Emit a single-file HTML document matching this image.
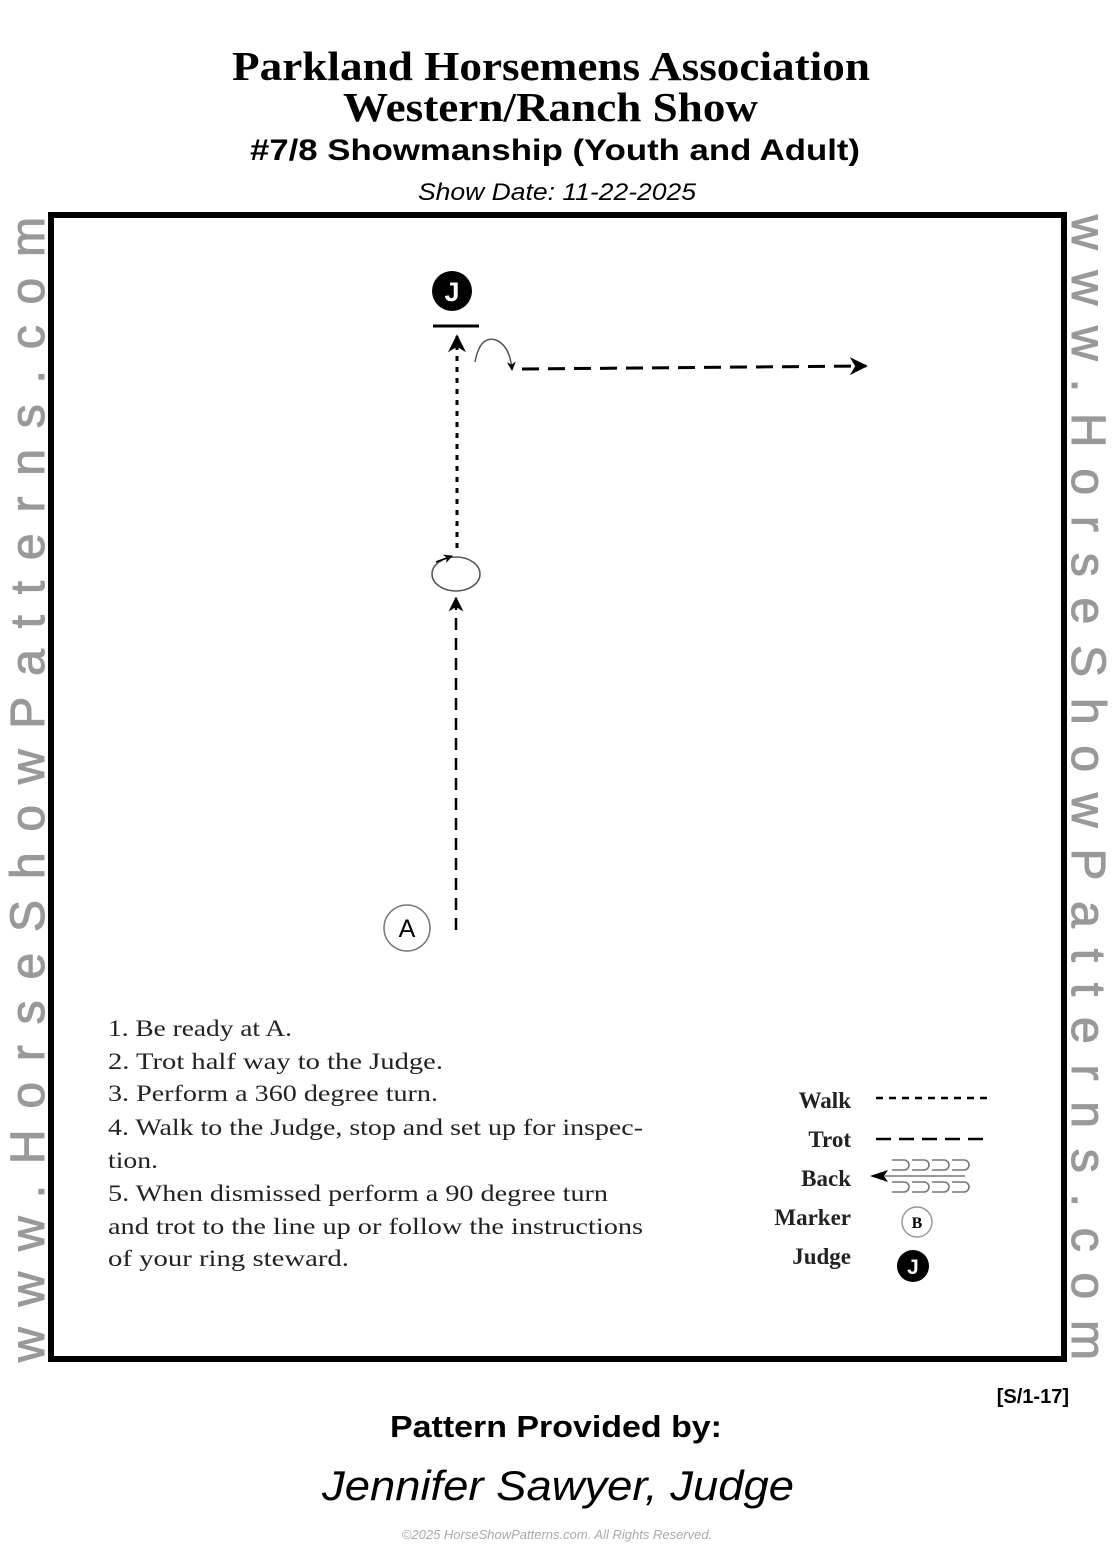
<!DOCTYPE html>
<html><head><meta charset="utf-8"><style>html,body{margin:0;padding:0;background:#fff}svg{display:block}</style></head>
<body>
<svg width="1115" height="1561" viewBox="0 0 1115 1561" xmlns="http://www.w3.org/2000/svg">
<defs>
<marker id="ah" viewBox="0 0 10 10" refX="9" refY="5" markerWidth="6" markerHeight="6" orient="auto"><path d="M0,0 L10,5 L0,10 L3,5 z" fill="#000"/></marker>
</defs>
<rect width="1115" height="1561" fill="#fff"/>
<g font-family="Liberation Serif, serif" font-weight="bold" fill="#000">
<text x="232" y="80" font-size="41" textLength="638" lengthAdjust="spacingAndGlyphs">Parkland Horsemens Association</text>
<text x="343" y="121" font-size="41" textLength="415" lengthAdjust="spacingAndGlyphs">Western/Ranch Show</text>
</g>
<text x="250" y="160" font-family="Liberation Sans, sans-serif" font-weight="bold" font-size="30" textLength="610" lengthAdjust="spacingAndGlyphs">#7/8 Showmanship  (Youth and Adult)</text>
<text x="418" y="200" font-family="Liberation Sans, sans-serif" font-style="italic" font-size="24" textLength="278" lengthAdjust="spacingAndGlyphs">Show Date: 11-22-2025</text>
<rect x="51" y="215" width="1013" height="1144" fill="none" stroke="#000" stroke-width="6"/>
<text transform="translate(44,1362) rotate(-90)" font-family="Liberation Sans, sans-serif" font-size="48" stroke="#999" stroke-width="1" fill="#999" textLength="1145" lengthAdjust="spacing">www.HorseShowPatterns.com</text>
<text transform="translate(1072,215) rotate(90)" font-family="Liberation Sans, sans-serif" font-size="48" stroke="#999" stroke-width="1" fill="#999" textLength="1145" lengthAdjust="spacing">www.HorseShowPatterns.com</text>
<circle cx="452" cy="291" r="20" fill="#000"/>
<text x="452" y="301" font-family="Liberation Sans, sans-serif" font-weight="bold" font-size="27" fill="#fff" text-anchor="middle">J</text>
<line x1="433" y1="326" x2="479" y2="326" stroke="#000" stroke-width="3"/>
<line x1="456" y1="930" x2="456" y2="598" stroke="#000" stroke-width="2.5" stroke-dasharray="12,8" marker-end="url(#ah)"/>
<ellipse cx="456" cy="574" rx="24" ry="17" fill="none" stroke="#555" stroke-width="1.5"/>
<path d="M436,562 L452,556" stroke="#000" stroke-width="1.5" marker-end="url(#ah)"/>
<line x1="457" y1="548" x2="457" y2="336" stroke="#000" stroke-width="3" stroke-dasharray="5,6" marker-end="url(#ah)"/>
<path d="M475,362 Q480,335 496,340 Q510,346 512,370" fill="none" stroke="#555" stroke-width="1.5" marker-end="url(#ah)"/>
<line x1="522" y1="369" x2="866" y2="366" stroke="#000" stroke-width="3" stroke-dasharray="17,9" marker-end="url(#ah)"/>
<circle cx="407" cy="928" r="23" fill="#fff" stroke="#777" stroke-width="1.5"/>
<text x="407" y="937" font-family="Liberation Sans, sans-serif" font-size="25" text-anchor="middle">A</text>
<g font-family="Liberation Serif, serif" font-size="23" fill="#222">
<text x="108" y="1036" textLength="184" lengthAdjust="spacingAndGlyphs">1. Be ready at A.</text>
<text x="108" y="1069" textLength="335" lengthAdjust="spacingAndGlyphs">2. Trot half  way to the Judge.</text>
<text x="108" y="1101" textLength="330" lengthAdjust="spacingAndGlyphs">3. Perform a 360 degree turn.</text>
<text x="108" y="1135" textLength="535" lengthAdjust="spacingAndGlyphs">4. Walk to the Judge, stop and set up for inspec-</text>
<text x="108" y="1168" textLength="50" lengthAdjust="spacingAndGlyphs">tion.</text>
<text x="108" y="1201" textLength="500" lengthAdjust="spacingAndGlyphs">5. When dismissed perform a 90 degree turn</text>
<text x="108" y="1234" textLength="535" lengthAdjust="spacingAndGlyphs">and trot to the line up or follow the instructions</text>
<text x="108" y="1266" textLength="241" lengthAdjust="spacingAndGlyphs">of  your ring steward.</text>
</g>
<g font-family="Liberation Serif, serif" font-weight="bold" font-size="23" text-anchor="end" fill="#222">
<text x="851" y="1108">Walk</text>
<text x="851" y="1147">Trot</text>
<text x="851" y="1186">Back</text>
<text x="851" y="1225">Marker</text>
<text x="851" y="1264">Judge</text>
</g>
<line x1="876" y1="1098" x2="990" y2="1098" stroke="#000" stroke-width="2.5" stroke-dasharray="7,6"/>
<line x1="876" y1="1139" x2="990" y2="1139" stroke="#000" stroke-width="2.5" stroke-dasharray="15,8"/>
<line x1="885" y1="1176" x2="965" y2="1176" stroke="#777" stroke-width="1.5"/>
<path d="M870,1176 L888,1170 L884,1176 L888,1182 z" fill="#000"/>
<g fill="none" stroke="#777" stroke-width="1.6">
<path d="M892,1160 h12 a5,5 0 0 1 0,10 h-12 M912,1160 h12 a5,5 0 0 1 0,10 h-12 M932,1160 h12 a5,5 0 0 1 0,10 h-12 M952,1160 h12 a5,5 0 0 1 0,10 h-12"/>
<path d="M892,1182 h12 a5,5 0 0 1 0,10 h-12 M912,1182 h12 a5,5 0 0 1 0,10 h-12 M932,1182 h12 a5,5 0 0 1 0,10 h-12 M952,1182 h12 a5,5 0 0 1 0,10 h-12"/>
</g>
<circle cx="917" cy="1222" r="15" fill="#fff" stroke="#999" stroke-width="1.5"/>
<text x="917" y="1228" font-family="Liberation Serif, serif" font-weight="bold" font-size="16" text-anchor="middle">B</text>
<circle cx="913" cy="1266" r="16" fill="#000"/>
<text x="913" y="1274" font-family="Liberation Sans, sans-serif" font-weight="bold" font-size="21" fill="#fff" text-anchor="middle">J</text>
<text x="1069" y="1403" font-family="Liberation Sans, sans-serif" font-weight="bold" font-size="20" text-anchor="end">[S/1-17]</text>
<text x="390" y="1437" font-family="Liberation Sans, sans-serif" font-weight="bold" font-size="31" textLength="332" lengthAdjust="spacingAndGlyphs">Pattern Provided by:</text>
<text x="322" y="1500" font-family="Liberation Sans, sans-serif" font-style="italic" font-size="42" textLength="472" lengthAdjust="spacingAndGlyphs">Jennifer Sawyer, Judge</text>
<text x="557" y="1539" font-family="Liberation Sans, sans-serif" font-style="italic" font-size="13" fill="#aaa" text-anchor="middle">©2025 HorseShowPatterns.com. All Rights Reserved.</text>
</svg>
</body></html>
